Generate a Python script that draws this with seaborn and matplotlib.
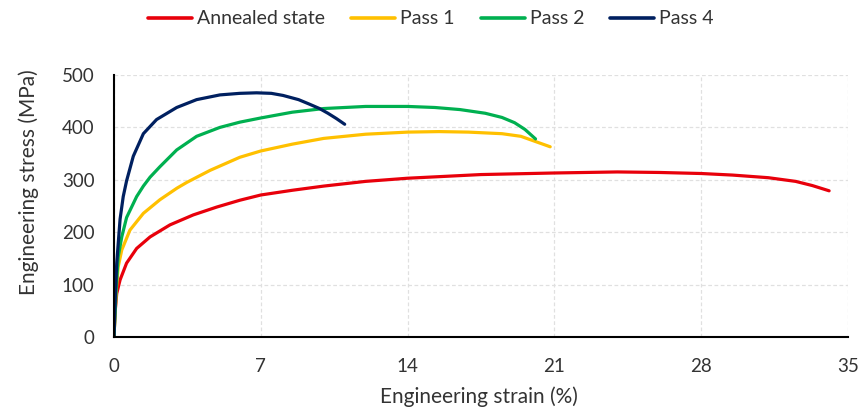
import matplotlib
matplotlib.use("Agg")
import matplotlib.pyplot as plt
import seaborn as sns
import pandas as pd

# ---- data ----
annealed_x = [0, 0.05, 0.13, 0.29, 0.6, 1.08, 1.72, 2.67, 3.78, 4.9, 6.0, 7.0, 8.5, 10, 12,
              14, 17.5, 21, 24, 26, 28, 29.5, 31.2, 32.5, 33.3, 34.1]
annealed_y = [0, 46, 83, 109, 141, 169, 191, 214, 233, 248, 261, 271, 280, 288, 297,
              303, 310, 313, 315, 314, 312, 309, 304, 297, 289, 279]

pass1_x = [0, 0.1, 0.2, 0.37, 0.76, 1.4, 2.19, 3.0, 3.47, 4.58, 6.0, 7.0, 8.5, 10, 12,
           14, 15.5, 16.9, 18.5, 19.4, 20.1, 20.8]
pass1_y = [0, 85, 134, 166, 204, 236, 262, 284, 295, 318, 343, 355, 368, 379, 387,
           391, 392, 391, 388, 383, 373, 363]

pass2_x = [0, 0.1, 0.2, 0.37, 0.6, 1.08, 1.4, 1.72, 2.19, 2.99, 3.94, 5.05, 6.0, 7.0, 8.5,
           10, 12, 14, 15.3, 16.5, 17.7, 18.5, 19.1, 19.6, 20.1]
pass2_y = [0, 90, 153, 191, 228, 268, 288, 305, 325, 357, 383, 400, 410, 418, 429,
           436, 440, 440, 438, 434, 427, 419, 409, 396, 378]

pass4_x = [0, 0.06, 0.13, 0.29, 0.44, 0.6, 0.92, 1.4, 2.03, 2.99, 3.94, 5.05, 6.0, 6.8,
           7.5, 8.06, 8.8, 9.34, 9.8, 10.2, 10.6, 11.0]
pass4_y = [0, 75, 141, 225, 268, 298, 345, 388, 415, 438, 453, 462, 465, 466,
           465, 461, 453, 444, 436, 427, 417, 406]

series_names = ["Annealed state", "Pass 1", "Pass 2", "Pass 4"]
colors = ["#e8000b", "#ffc000", "#00b050", "#002060"]
x_ticks = [0, 7, 14, 21, 28, 35]
y_ticks = [0, 100, 200, 300, 400, 500]

frames = []
for name, xs, ys in zip(series_names,
                        [annealed_x, pass1_x, pass2_x, pass4_x],
                        [annealed_y, pass1_y, pass2_y, pass4_y]):
    frames.append(pd.DataFrame({"strain": xs, "stress": ys, "series": name}))
df = pd.concat(frames, ignore_index=True)

sns.set_theme(style="white")
plt.rcParams["font.family"] = ["Lato", "DejaVu Sans"]

text_color = "#333333"
fig = plt.figure(figsize=(8.58, 4.09), dpi=100)
ax = fig.add_axes([114 / 858, 1 - 337 / 409, 734 / 858, 262 / 409])

sns.lineplot(data=df, x="strain", y="stress", hue="series", hue_order=series_names,
             palette=colors, sort=False, estimator=None, linewidth=2.3, ax=ax,
             legend=True)
for line in ax.get_lines():
    line.set_solid_joinstyle("round")
    line.set_solid_capstyle("round")

ax.set_xlim(0, 35)
ax.set_ylim(0, 500)
ax.set_xticks(x_ticks)
ax.set_yticks(y_ticks)
ax.grid(True, color="#e0e0e0", linestyle=(0, (3, 2)), linewidth=0.9)
ax.set_axisbelow(True)
for s in ["top", "right"]:
    ax.spines[s].set_visible(False)
for s in ["left", "bottom"]:
    ax.spines[s].set_color("black")
    ax.spines[s].set_linewidth(1.5)
    ax.spines[s].set_zorder(5)
ax.tick_params(axis="both", direction="in", length=6, width=1.5, color="black",
               labelsize=13.5, labelcolor=text_color)
ax.tick_params(axis="x", pad=15)
ax.tick_params(axis="y", pad=14)
ax.set_xlabel("Engineering strain (%)", fontsize=15, color=text_color)
ax.set_ylabel("Engineering stress (MPa)", fontsize=15, color=text_color)
ax.xaxis.set_label_coords(0.497, (337 - 386) / 262)
ax.yaxis.set_label_coords((39 - 114) / 734, (337 - 182) / 262)

handles, labels = ax.get_legend_handles_labels()
ax.get_legend().remove()
leg = fig.legend(handles, labels, loc="center", bbox_to_anchor=(431 / 858, 1 - 19 / 409),
                 ncol=4, frameon=False, fontsize=14, handlelength=2.26,
                 columnspacing=1.34, handletextpad=0.26, labelcolor=text_color)
for line in leg.get_lines():
    line.set_linewidth(2.6)

fig.savefig("out.png", dpi=100)
